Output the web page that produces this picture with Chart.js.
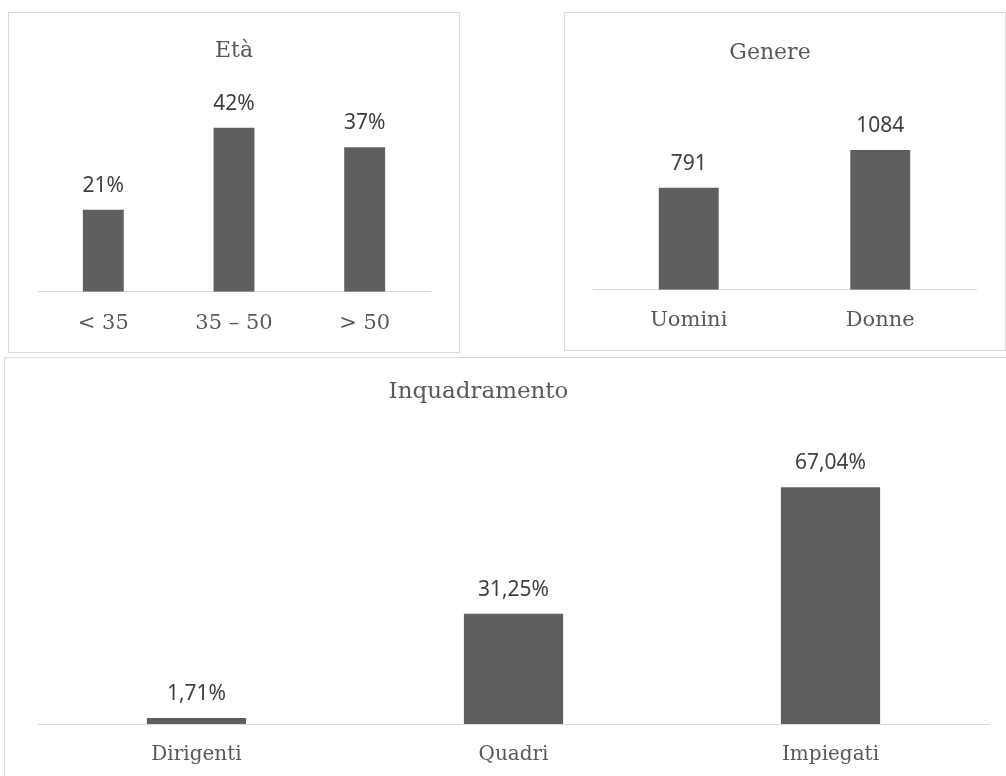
<!DOCTYPE html>
<html>
<head>
<meta charset="utf-8">
<script src="https://cdn.jsdelivr.net/npm/chart.js@4/dist/chart.umd.min.js"></script>
<style>
  html, body { margin: 0; padding: 0; background: #fff; overflow: hidden; }
  .box { position: absolute; box-sizing: border-box; border: 1px solid #d9d9d9; background: #fff; overflow: hidden; }
  .box canvas { display: block; }
</style>
</head>
<body>
<div class="box" style="left:8px; top:12px; width:452px; height:341px;">
  <canvas id="chartEta" width="450" height="339"></canvas>
</div>
<div class="box" style="left:564px; top:12px; width:442px; height:339px;">
  <canvas id="chartGenere" width="440" height="337"></canvas>
</div>
<div class="box" style="left:4px; top:357px; width:1010px; height:430px;">
  <canvas id="chartInq" width="1001" height="418"></canvas>
</div>
<script>
// dati
const etaLabels = ['< 35', '35 – 50', '> 50']
const etaValues = [21, 42, 37]

const genereLabels = ['Uomini', 'Donne']
const genereValues = [791, 1084]

const inqLabels = ['Dirigenti', 'Quadri', 'Impiegati']
const inqValues = [1.71, 31.25, 67.04]

;(() => {
  'use strict'

  const barColor = '#5f5f5f'
  const lineColor = '#d9d9d9'
  const textColor = '#595959'

  // titolo disegnato a mano (posizione come nell'originale)
  const boxTitle = {
    id: 'boxTitle',
    afterDraw(chart, args, opts) {
      const ctx = chart.ctx
      ctx.save()
      ctx.font = opts.size + 'px "DejaVu Serif"'
      ctx.fillStyle = textColor
      ctx.textAlign = 'center'
      ctx.textBaseline = 'alphabetic'
      ctx.fillText(opts.text, chart.width / 2 + opts.dx, opts.y)
      ctx.restore()
    }
  }

  // etichette valori sopra le barre
  const valueLabels = {
    id: 'valueLabels',
    afterDatasetsDraw(chart, args, opts) {
      const ctx = chart.ctx
      const meta = chart.getDatasetMeta(0)
      const values = chart.data.datasets[0].data
      ctx.save()
      ctx.font = '21px "Noto Sans"'
      ctx.fillStyle = '#404040'
      ctx.textAlign = 'center'
      ctx.textBaseline = 'alphabetic'
      meta.data.forEach((bar, i) => {
        ctx.fillText(opts.format(values[i]), bar.x, bar.y - 18)
      })
      ctx.restore()
    }
  }

  const makeChart = (id, labels, values, cfg) => new Chart(document.getElementById(id), {
    type: 'bar',
    plugins: [boxTitle, valueLabels],
    data: {
      labels: labels,
      datasets: [{
        data: values,
        backgroundColor: barColor,
        borderWidth: 0,
        categoryPercentage: 1,
        barPercentage: 0.313,
      }]
    },
    options: {
      responsive: false,
      animation: false,
      layout: { padding: cfg.padding },
      plugins: {
        legend: { display: false },
        tooltip: { enabled: false },
        title: { display: false },
        boxTitle: { text: cfg.title, dx: cfg.titleDx, y: cfg.titleY, size: cfg.titleSize },
        valueLabels: { format: cfg.format },
      },
      scales: {
        x: {
          grid: { display: false, drawTicks: false },
          border: { display: true, color: lineColor, width: 1 },
          ticks: {
            padding: cfg.tickPad,
            color: textColor,
            font: { family: 'DejaVu Serif', size: cfg.tickSize },
          }
        },
        y: {
          display: false,
          beginAtZero: true,
          min: 0,
          max: cfg.max,
        }
      }
    }
  })

  makeChart('chartEta', etaLabels, etaValues, {
    title: 'Età', titleDx: 0, titleY: 44, titleSize: 22,
    padding: { top: 60, bottom: -3, left: 29, right: 29 },
    tickPad: 19, tickSize: 21, max: 56,
    format: v => v + '%',
  })

  makeChart('chartGenere', genereLabels, genereValues, {
    title: 'Genere', titleDx: -15, titleY: 46, titleSize: 22,
    padding: { top: 60, bottom: -1, left: 28, right: 29 },
    tickPad: 18, tickSize: 21, max: 1680,
    format: v => String(v),
  })

  makeChart('chartInq', inqLabels, inqValues, {
    title: 'Inquadramento', titleDx: -27, titleY: 40, titleSize: 23,
    padding: { top: 80, bottom: -10, left: 33, right: 17 },
    tickPad: 19, tickSize: 20, max: 81,
    format: v => v.toFixed(2).replace('.', ',') + '%',
  })
})()
</script>
</body>
</html>
